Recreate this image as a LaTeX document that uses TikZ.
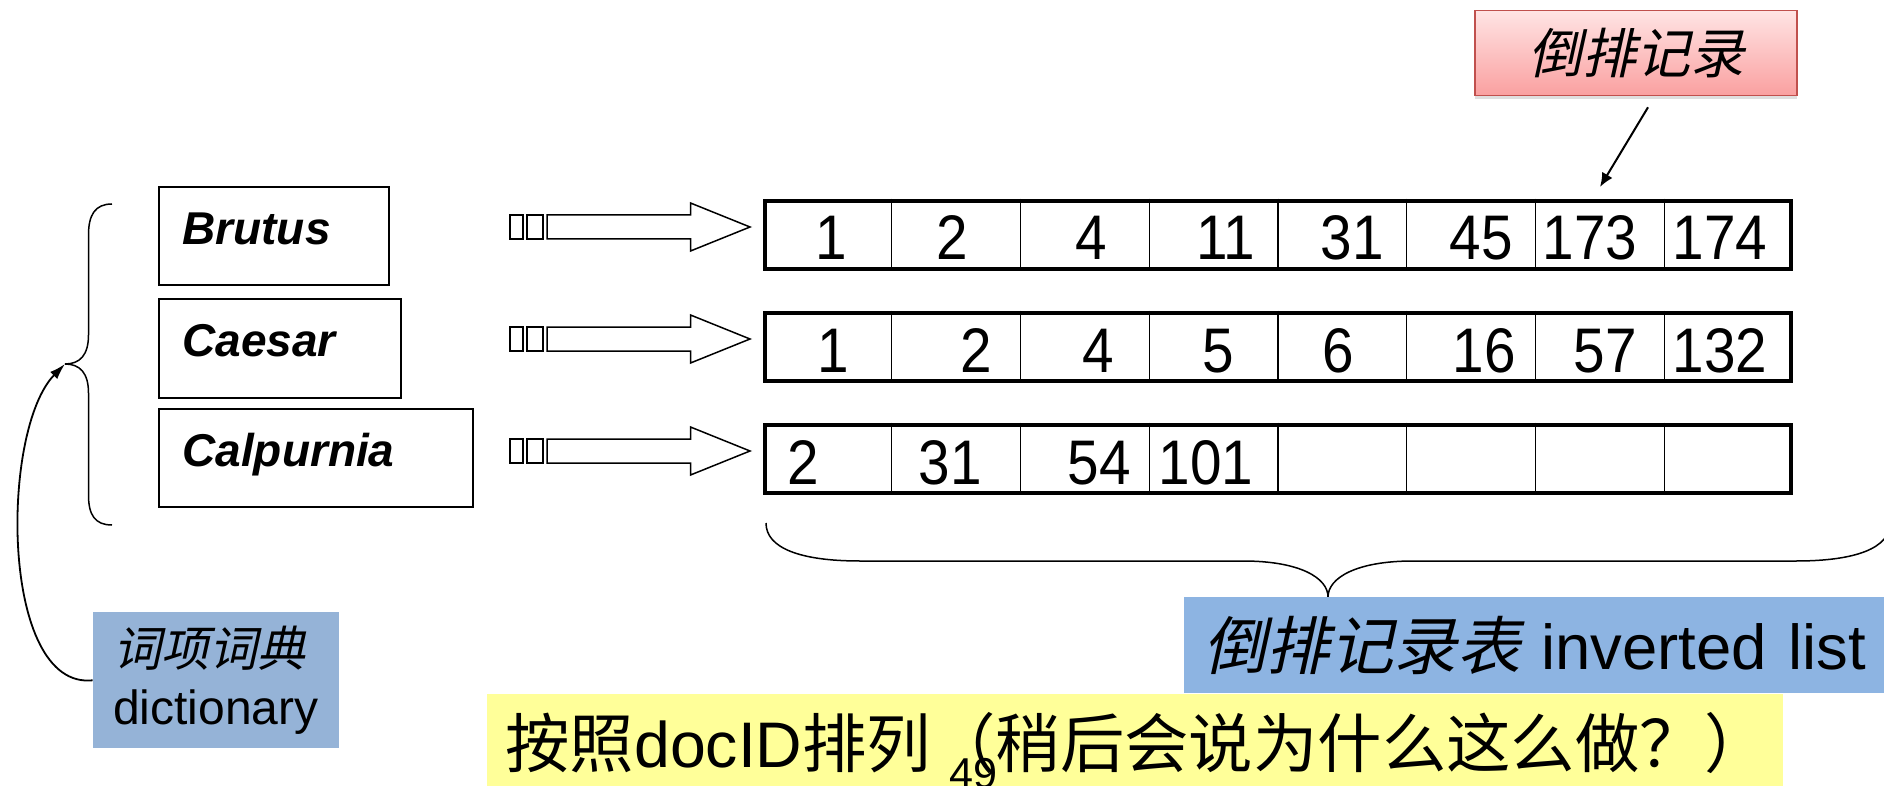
\documentclass[tikz,border=0pt]{standalone}
\usepackage{fontspec}
\setmainfont{Liberation Sans}
\newfontfamily\cjk{Noto Sans CJK SC}
\newfontfamily\cjkit[FakeSlant=0.22]{Noto Sans CJK SC}
\newfontfamily\numfont[FakeStretch=0.9]{Liberation Sans}
\usetikzlibrary{arrows.meta,calc,positioning,shadows}
\definecolor{dictblue}{RGB}{149,179,215}
\definecolor{listblue}{RGB}{141,180,226}
\definecolor{notey}{RGB}{255,255,153}
\definecolor{pinktop}{RGB}{255,228,228}
\definecolor{pinkbot}{RGB}{250,160,160}
\definecolor{pinkline}{RGB}{192,80,77}
\tikzset{term/.style={draw, line width=0.8pt, anchor=north west, inner xsep=11.8pt, inner ysep=0pt,
  text width=#1, align=left, minimum height=49pt, text height=17pt, text depth=8.6pt,
  font=\fontsize{23}{27}\selectfont\bfseries\itshape},
plist/.style={draw, line width=2pt, minimum width=513pt, minimum height=34.3pt, inner sep=0pt},
num/.style={anchor=base, inner sep=0pt, font=\fontsize{31.5}{36}\numfont},
brace/.style={line width=0.75pt},
blockarrow/.style={draw, line width=0.75pt, fill=white}}

\begin{document}
\begin{tikzpicture}[x=0.5pt,y=-0.5pt]
        \useasboundingbox (0,0) rectangle (1884,786);
        \clip (0,0) rectangle (1884,786);

        \node[term=91.4pt] (brutus) at (158,186) {Brutus};
        \node[term=97.4pt, minimum height=49.5pt] (caesar) at (158,298) {Caesar};
        \node[term=133.4pt] (calpurnia) at (158,408) {Calpurnia};

        \node[plist] (lstB) at (1278,235) {};
        \node[plist] (lstC) at (1278,347) {};
        \node[plist] (lstP) at (1278,459) {};
        \foreach \r in {lstB,lstC,lstP}
          \foreach \k in {1,...,7}
            \draw[line width=0.6pt] ($(\r.north west)!\k/8!(\r.north east)$) -- ($(\r.south west)!\k/8!(\r.south east)$);

        \foreach \x/\n [count=\i] in {831/1,952/2,1091/4,1226/11,1352/31,1481/45,1590/173,1720/174}
          \node[num] (nB\i) at (\x,260) {\n};
        \foreach \x/\n [count=\i] in {833/1,976/2,1098/4,1218/5,1338/6,1484/16,1605/57,1720/132}
          \node[num] (nC\i) at (\x,372) {\n};
        \foreach \x/\n [count=\i] in {803/2,950/31,1099/54,1206/101}
          \node[num] (nP\i) at (\x,484) {\n};

        % block arrows with the two little boxes
        \foreach \yy in {227,339,451} {
          \draw[blockarrow] (547,\yy-12) -- (690.5,\yy-12) -- (690.5,\yy-24) -- (750,\yy)
                -- (690.5,\yy+24) -- (690.5,\yy+12) -- (547,\yy+12) -- cycle;
          \draw[line width=0.6pt] (510,\yy-12) rectangle (523,\yy+12);
          \draw[line width=0.6pt] (527,\yy-12) rectangle (543,\yy+12);
        }

        \coordinate (tip) at (65,364);
        \draw[brace] (112,204) .. controls (95,204) and (88.5,215) .. (88.5,235) -- (88.5,335)
              .. controls (88.5,355) and (80,364) .. (tip)
              .. controls (80,364) and (88.5,373) .. (88.5,393) -- (88.5,495)
              .. controls (88.5,515) and (95,525) .. (112,525);

        \node[fill=dictblue, anchor=north west, minimum height=67.9pt, inner xsep=10pt, inner ysep=0pt,
              text width=103pt, align=left, font=\fontsize{24}{29}\selectfont] (dict) at (92.7,612)
              {{\cjkit 词项词典}\\dictionary};
        \draw[line width=0.9pt, -{Latex[length=8pt,width=5pt]}] (dict.west) .. controls (0,690) and (0,430) .. (tip);

        \node[draw=pinkline, line width=0.8pt, top color=pinktop, bottom color=pinkbot,
              minimum width=161pt, minimum height=42.5pt, inner sep=0pt,
              drop shadow={shadow xshift=0pt, shadow yshift=-2pt, opacity=0.25},
              font=\fontsize{27}{30}\cjkit] (rec) at (1636,53) {倒排记录};
        \coordinate (recTgt) at (1600,187);
        \draw[line width=1pt, -{Latex[length=7pt,width=6pt]}] ([xshift=6pt,yshift=-5.5pt]rec.south) -- (recTgt);

        \coordinate (brTip) at (1328,597);
        \draw[brace] (766,523) .. controls (766,548) and (800,561) .. (860,561) -- (1243,561)
              .. controls (1300,561) and (1328,578) .. (brTip)
              .. controls (1328,578) and (1356,561) .. (1413,561) -- (1796,561)
              .. controls (1856,561) and (1890,548) .. (1890,523);

        \node[fill=listblue, anchor=north west, minimum height=48pt, inner xsep=9.5pt, inner ysep=0pt,
              text width=345pt, align=left, font=\fontsize{31.7}{36}\selectfont] (invlist) at (1184,597)
              {\mbox{{\cjkit 倒排记录表} inverted list}};

        \node[fill=notey, anchor=north west, minimum height=49pt, inner xsep=9pt, inner ysep=0pt,
              text width=630pt, align=left, font=\fontsize{32.2}{36}\selectfont] (note) at (487,694)
              {\mbox{{\cjk 按照}docID{\cjk 排列（稍后会说为什么这么做？）}}};
        \node[anchor=base west, inner sep=0pt, font=\fontsize{21.6}{24}\selectfont] (pgno) at (949,788) {49};
    \end{tikzpicture}
\end{document}
